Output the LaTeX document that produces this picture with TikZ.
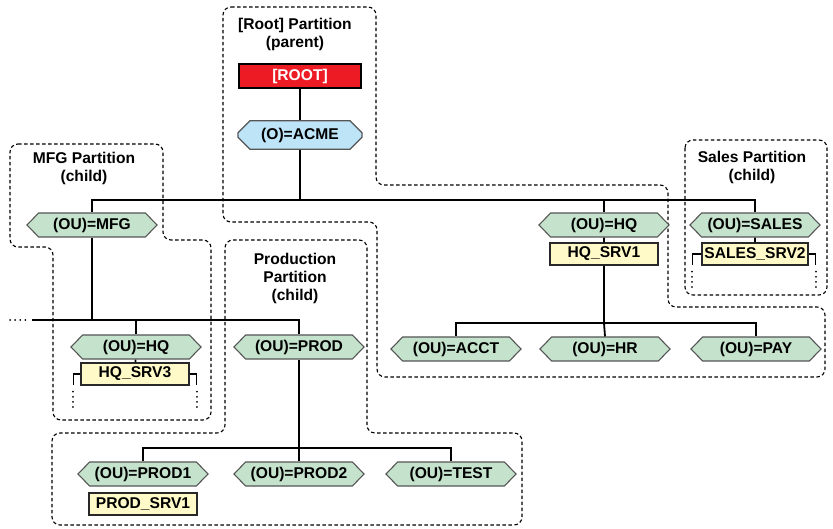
\documentclass[tikz,border=0pt]{standalone}
\usepackage{fontspec}
\setmainfont{Liberation Sans}
\usetikzlibrary{shapes.symbols,shapes.misc}
\definecolor{ougreen}{RGB}{196,226,204}
\definecolor{ouborder}{RGB}{85,85,85}
\definecolor{acmeblue}{RGB}{189,228,247}
\definecolor{srvyellow}{RGB}{255,250,200}
\definecolor{srvborder}{RGB}{40,40,40}
\definecolor{rootred}{RGB}{237,28,36}
\begin{document}
\begin{tikzpicture}[x=1pt,y=-1pt,
  every node/.style={font=\fontsize{15.6}{18}\selectfont\bfseries},
  ou/.style={shape=signal, signal to=east and west, signal pointer angle=92, fill=ougreen, draw=ouborder, line width=1.1pt, minimum width=130pt, minimum height=24pt, inner sep=1pt},
  srv/.style={rectangle, fill=srvyellow, draw=srvborder, line width=1.3pt, minimum width=108pt, minimum height=22pt, inner xsep=1pt, inner ysep=1pt},
  conn/.style={line width=1.8pt, black},
  part/.style={line width=1.1pt, dash pattern=on 3.5pt off 2.5pt, rounded corners=8pt},
  title/.style={align=center},
  brk/.style={line width=1.6pt},
  dts/.style={line width=1.8pt, line cap=round, dash pattern=on 0.1pt off 5pt}]
\useasboundingbox (0,0) rectangle (833,529);

% partitions
\draw[part] (223,7) -- (376,7) -- (376,185) -- (668,185) -- (668,307) -- (825,307) -- (825,377) -- (377,377) -- (377,222) -- (223,222) -- cycle;
\draw[part] (10,144) -- (163,144) -- (163,240) -- (211,240) -- (211,420) -- (53,420) -- (53,247) -- (10,247) -- cycle;
\draw[part] (225,240) -- (367,240) -- (367,433) -- (522,433) -- (522,525) -- (52,525) -- (52,433) -- (225,433) -- cycle;
\draw[part] (685,140) rectangle (827,295);

% titles
\node[title] (troot) at (295,34) {[Root] Partition\\(parent)};
\node[title] (tmfg) at (84,168) {MFG Partition\\(child)};
\node[title] (tsales) at (752,167) {Sales Partition\\(child)};
\node[title] (tprod) at (295,278) {Production\\Partition\\(child)};

% nodes
\node[rectangle, fill=rootred, draw=black, line width=2pt, minimum width=122pt, minimum height=24pt, text=white, inner sep=1pt] (root) at (300,76) {[ROOT]};
\node[chamfered rectangle, chamfered rectangle xsep=6pt, chamfered rectangle ysep=6pt, fill=acmeblue, draw=ouborder, line width=1.1pt, minimum width=124pt, minimum height=24pt, inner sep=1pt] (acme) at (300,135) {(O)=ACME};

\node[ou] (mfg) at (92,225) {(OU)=MFG};
\node[ou] (hq) at (604,225) {(OU)=HQ};
\node[ou] (sales) at (755,225) {(OU)=SALES};
\node[srv] (srv1) at (604,254) {HQ\_SRV1};
\node[srv, minimum width=106pt, inner xsep=0pt] (srv2) at (755,254) {SALES\_SRV2};
\node[ou] (acct) at (456,349) {(OU)=ACCT};
\node[ou] (hr) at (605,349) {(OU)=HR};
\node[ou] (pay) at (756,349) {(OU)=PAY};

\node[ou] (hq2) at (136,347) {(OU)=HQ};
\node[srv] (srv3) at (135,374) {HQ\_SRV3};
\node[ou] (prod) at (299,347) {(OU)=PROD};
\node[ou] (prod1) at (143,474) {(OU)=PROD1};
\node[ou] (prod2) at (299,474) {(OU)=PROD2};
\node[ou] (test) at (451,474) {(OU)=TEST};
\node[srv] (psrv1) at (143,504) {PROD\_SRV1};

% bus coordinates
\coordinate (b1) at (300,200);
\coordinate (b2) at (32,320);
\coordinate (b2dots) at (10,320);
\coordinate (b3) at (299,448);
\coordinate (b4) at (604,323);

% connectors
\draw[conn] (root) -- (acme);
\draw[conn] (acme) -- (b1);
\draw[conn] (mfg.north) |- (b1) -| (sales.north);
\draw[conn] (b1) -| (hq.north);
\draw[conn] (hq) -- (srv1);
\draw[conn] (sales) -- (srv2);
\draw[conn] (srv1) -- (b4);
\draw[conn] (acct.north) |- (b4) -| (pay.north);
\draw[conn] (b4) -- (hr.north);

\draw[conn] (mfg.south) -- (mfg.south |- b2);
\draw[conn] (b2) -| (prod.north);
\draw[conn] (hq2.north |- b2) -- (hq2.north);
\draw[dts] (b2dots) -- ([xshift=-6pt]b2);
\draw[conn] (hq2) -- (srv3);
\draw[conn] (prod) -- (b3);
\draw[conn] (prod1.north) |- (b3) -| (test.north);
\draw[conn] (b3) -- (prod2.north);

% brackets
\draw[brk] (srv3.west) -- ++(-7,0) -- ++(0,11);
\draw[brk] (srv3.east) -- ++(7,0) -- ++(0,11);
\draw[dts] ([xshift=-7pt,yshift=-6pt]srv3.south west) -- ++(0,18);
\draw[dts] ([xshift=7pt,yshift=-6pt]srv3.south east) -- ++(0,18);
\draw[brk] (srv2.west) -- ++(-9,0) -- ++(0,11);
\draw[brk] (srv2.east) -- ++(7,0) -- ++(0,11);
\draw[dts] ([xshift=-9pt,yshift=-6pt]srv2.south west) -- ++(0,18);
\draw[dts] ([xshift=7pt,yshift=-6pt]srv2.south east) -- ++(0,18);
\end{tikzpicture}
\end{document}
